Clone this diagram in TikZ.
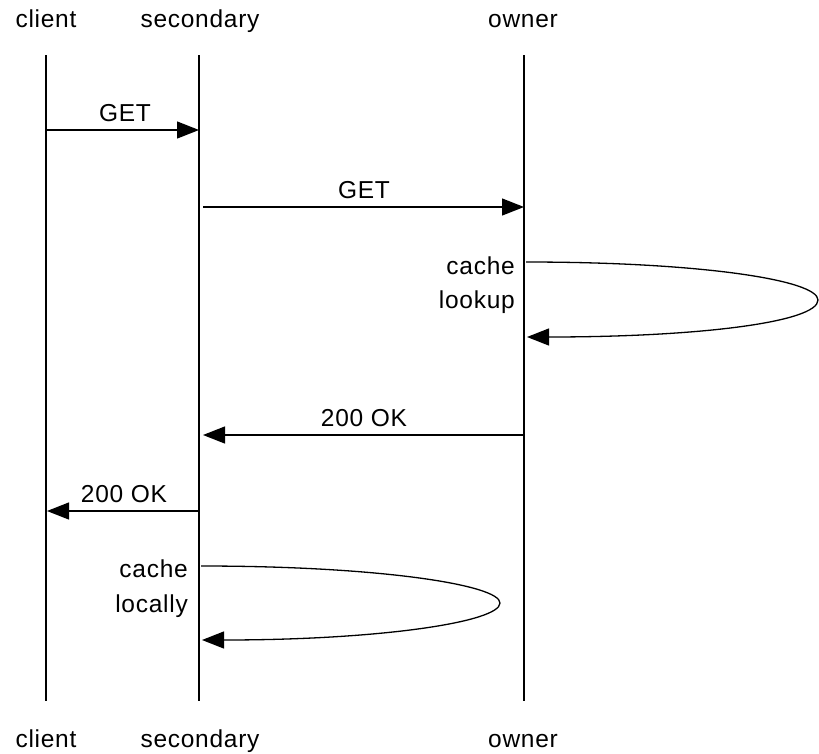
\documentclass[tikz,border=0pt]{standalone}
\usepackage{fontspec}
\setmainfont[LetterSpace=3]{Liberation Sans}
\usetikzlibrary{arrows.meta}
\begin{document}
\begin{tikzpicture}[x=1pt,y=-1pt,
  lbl/.style={font=\fontsize{24.5}{28}\selectfont, inner sep=0pt, anchor=base},
  lifeline/.style={line width=1.3pt},
  msg/.style={line width=1.3pt, -{Triangle[length=22pt,width=17pt]}},
  loopmsg/.style={line width=1.3pt, -{Triangle[length=22pt,width=17pt]}}]
\useasboundingbox (0,0) rectangle (819,753);
% participant labels
\node[lbl] (ct) at (46,27) {client};
\node[lbl] (st) at (200,27) {secondary};
\node[lbl] (ot) at (523,27) {owner};
\node[lbl] (cb) at (46,747) {client};
\node[lbl] (sb) at (200,747) {secondary};
\node[lbl] (ob) at (523,747) {owner};
% lifelines
\coordinate (c0) at (46,55);  \coordinate (c1) at (46,701);
\coordinate (s0) at (199,55); \coordinate (s1) at (199,701);
\coordinate (o0) at (524,55); \coordinate (o1) at (524,701);
\draw[lifeline] (c0) -- (c1);
\draw[lifeline] (s0) -- (s1);
\draw[lifeline] (o0) -- (o1);
% messages
\coordinate (m1a) at (46,130);  \coordinate (m1b) at (199,130);
\draw[msg] (m1a) -- (m1b);
\node[lbl] (l1) at (125,121) {GET};
\coordinate (m2a) at (203,207);  \coordinate (m2b) at (524,207);
\draw[msg] (m2a) -- (m2b);
\node[lbl] (l2) at (364,198) {GET};
% self loop owner
\coordinate (m3a) at (526,262); \coordinate (m3b) at (527,337);
\draw[loopmsg] (m3a) .. controls (700,262) and (818,280) .. (818,300)
  .. controls (818,322) and (700,337) .. (m3b);
\node[lbl, anchor=base east] (l3a) at (515,274) {cache};
\node[lbl, anchor=base east] (l3b) at (515,308) {lookup};
\coordinate (m4a) at (524,435); \coordinate (m4b) at (203,435);
\draw[msg] (m4a) -- (m4b);
\node[lbl] (l4) at (364,426) {200 OK};
\coordinate (m5a) at (199,511); \coordinate (m5b) at (47,511);
\draw[msg] (m5a) -- (m5b);
\node[lbl] (l5) at (124,502) {200 OK};
% self loop secondary
\coordinate (m6a) at (201,566); \coordinate (m6b) at (202,640);
\draw[loopmsg] (m6a) .. controls (380,566) and (500,585) .. (500,603)
  .. controls (500,622) and (380,640) .. (m6b);
\node[lbl, anchor=base east] (l6a) at (188,577) {cache};
\node[lbl, anchor=base east] (l6b) at (188,612) {locally};
\end{tikzpicture}
\end{document}
